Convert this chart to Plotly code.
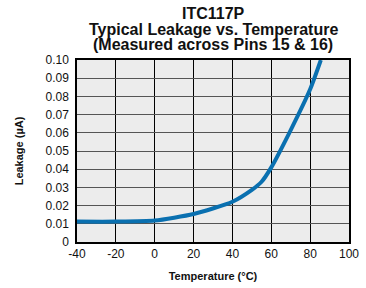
import plotly.graph_objects as go

temperature = [-40, -20, 0, 20, 40, 50, 55, 60, 70, 80, 85.5]
leakage = [0.0112, 0.0112, 0.0118, 0.0154, 0.0221, 0.0286, 0.0331, 0.0410, 0.0615, 0.0839, 0.1]

x_ticks = [-40, -20, 0, 20, 40, 60, 80, 100]
x_tick_labels = ["-40", "-20", "0", "20", "40", "60", "80", "100"]
y_ticks = [0, 0.01, 0.02, 0.03, 0.04, 0.05, 0.06, 0.07, 0.08, 0.09, 0.10]
y_tick_labels = ["0", "0.01", "0.02", "0.03", "0.04", "0.05", "0.06", "0.07", "0.08", "0.09", "0.10"]
title_lines = ["ITC117P", "Typical Leakage vs. Temperature", "(Measured across Pins 15 & 16)"]

fig = go.Figure()
fig.add_trace(go.Scatter(
    x=temperature, y=leakage, mode="lines",
    line=dict(color="#0a70b0", width=4, shape="spline", smoothing=0.6),
    showlegend=False, hoverinfo="skip",
))

font = "Liberation Sans, Arial, sans-serif"
L, T, W, H = 77, 60, 272, 182
fig.update_layout(
    width=366, height=288,
    margin=dict(l=L, r=366 - L - W, t=T, b=288 - T - H, autoexpand=False),
    paper_bgcolor="white",
    plot_bgcolor="#ececec",
    font=dict(family=font, color="#111", size=12),
)

title_px = [13.5, 29.5, 44.5]
for txt, py in zip(title_lines, title_px):
    fig.add_annotation(
        text="<b>" + txt.replace("&", "&amp;") + "</b>", xref="paper", yref="paper",
        x=0.5, y=(T + H - py) / H, xanchor="center", yanchor="middle",
        showarrow=False, font=dict(size=16, family=font, color="#111"),
    )

fig.update_xaxes(
    range=[-40, 100], tickvals=x_ticks, ticktext=x_tick_labels, ticks="", showgrid=True,
    gridcolor="#000", gridwidth=1, showline=True, linecolor="#000", linewidth=1.5,
    mirror=True, zeroline=False, automargin=False,
    title=dict(text="<b>Temperature (°C)</b>", font=dict(size=11, family=font), standoff=12),
    tickfont=dict(size=12),
)
fig.update_yaxes(
    range=[0, 0.10], tickvals=y_ticks, ticktext=y_tick_labels, ticks="",
    showgrid=True, gridcolor="#555", gridwidth=1, showline=True, linecolor="#000",
    linewidth=1.5, mirror=True, zeroline=False, automargin=False, ticklabelstandoff=4,
    title=dict(text="<b>Leakage (µA)</b>", font=dict(size=11, family=font), standoff=20),
    tickfont=dict(size=12),
)

fig.write_html("out.html", config={"displayModeBar": False},
               post_script="document.body.style.margin='0';")
